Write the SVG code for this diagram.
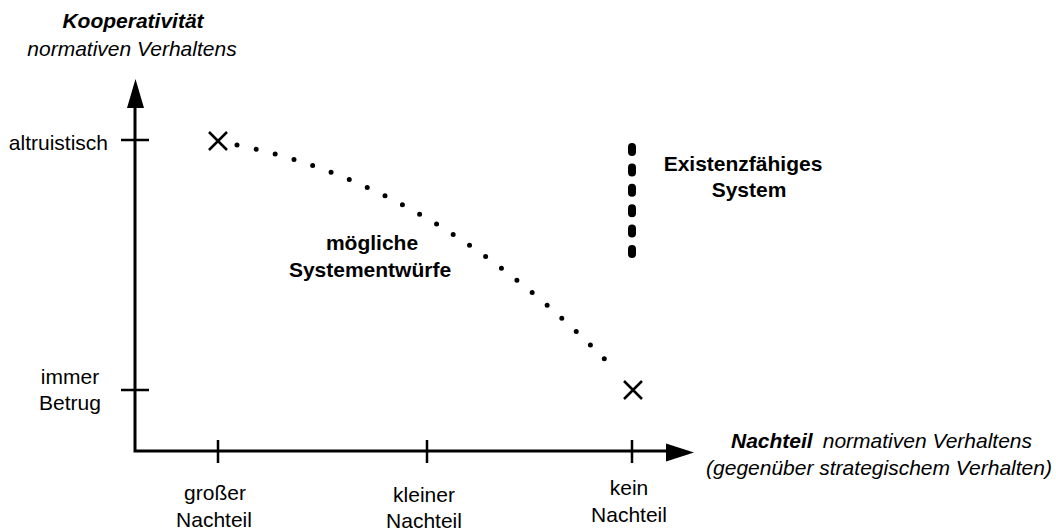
<svg xmlns="http://www.w3.org/2000/svg" width="1056" height="531" viewBox="0 0 1056 531">
  <style>
    text { font-family: "Liberation Sans", Arial, Helvetica, sans-serif; font-size: 21px; fill: #000; }
    .c { text-anchor: middle; }
    .b { font-weight: bold; }
    .i { font-style: italic; }
    .axis { stroke: #000; stroke-width: 3; fill: none; }
    .tick { stroke: #000; stroke-width: 2.5; fill: none; }
    .cross { stroke: #000; stroke-width: 2.5; fill: none; }
  </style>
  <rect width="1056" height="531" fill="#fff"/>

  <!-- axes with arrowheads -->
  <g id="axes">
    <path class="axis" d="M135,451 V106 M133.5,451 H668"/>
    <polygon points="135.5,79 127,108 144,108" fill="#000"/>
    <polygon points="694,452.5 666,443.5 666,461.5" fill="#000"/>
  </g>

  <!-- tick marks -->
  <g id="ticks">
    <path class="tick" d="M121,140 H149 M121,390 H149 M218,440 V463 M427,440 V463 M632,440 V463"/>
  </g>

  <!-- axis titles -->
  <g id="y-title">
    <text class="c b i" x="133" y="28">Kooperativität</text>
    <text class="c i" x="132" y="56">normativen Verhaltens</text>
  </g>
  <g id="x-title">
    <text x="731" y="448"><tspan class="b i">Nachteil</tspan><tspan class="i" dx="10">normativen Verhaltens</tspan></text>
    <text class="c i" x="879" y="475">(gegenüber strategischem Verhalten)</text>
  </g>

  <!-- y tick labels -->
  <g id="y-labels">
    <text x="108" y="150" text-anchor="end">altruistisch</text>
    <text class="c" x="70" y="384">immer</text>
    <text class="c" x="70" y="410">Betrug</text>
  </g>

  <!-- x tick labels -->
  <g id="x-labels">
    <text class="c" x="215" y="500">großer</text>
    <text class="c" x="214" y="527">Nachteil</text>
    <text class="c" x="424" y="502">kleiner</text>
    <text class="c" x="424" y="528">Nachteil</text>
    <text class="c" x="629" y="495">kein</text>
    <text class="c" x="629" y="522">Nachteil</text>
  </g>

  <!-- end points of the design range -->
  <g id="marker-start">
    <path class="cross" d="M209,132 L227,150 M227,132 L209,150"/>
  </g>
  <g id="marker-end">
    <path class="cross" d="M624,381 L642,399 M642,381 L624,399"/>
  </g>

  <!-- dotted curve of possible designs -->
  <g id="connectors">
    <path d="M237,145 Q439.4,185.5 618,373" pathLength="23" fill="none" stroke="#000" stroke-width="5" stroke-linecap="round" stroke-dasharray="0 1"/>
    <path d="M632,147 V260" fill="none" stroke="#000" stroke-width="8" stroke-linecap="round" stroke-dasharray="5 15.4"/>
  </g>

  <g id="label-designs">
    <text class="c b" x="372" y="250">mögliche</text>
    <text class="c b" x="370" y="277">Systementwürfe</text>
  </g>
  <g id="label-viable">
    <text class="c b" x="743" y="171">Existenzfähiges</text>
    <text class="c b" x="749" y="197">System</text>
  </g>
</svg>
